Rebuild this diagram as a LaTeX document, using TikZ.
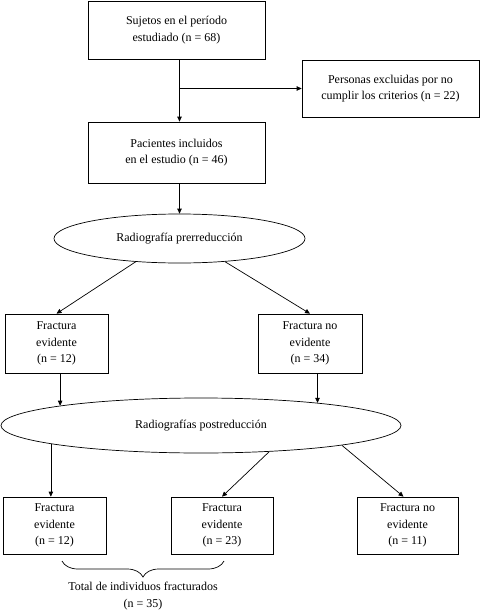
\documentclass[tikz,border=0pt]{standalone}
\usepackage{fontspec}
\setmainfont{Liberation Serif}
\usetikzlibrary{arrows.meta,shapes.geometric,decorations.pathreplacing,calc}
\begin{document}
\begin{tikzpicture}[x=1pt,y=-1pt,
  every node/.style={font=\fontsize{12}{16.5}\selectfont, align=center, inner sep=0pt},
  box/.style={draw, line width=0.7pt, rectangle},
  oval/.style={draw, line width=0.7pt, ellipse},
  conn/.style={line width=0.7pt, -{Triangle[length=5pt,width=4.5pt]}},
  plain/.style={line width=0.7pt}]
\useasboundingbox (0,0) rectangle (480,610);
\node[box, minimum width=177pt, minimum height=58pt] (b1) at (176.5,30) {Sujetos en el período\\estudiado (n = 68)};
\node[box, minimum width=177pt, minimum height=57pt] (ex) at (390.5,88.5) {Personas excluidas por no\\cumplir los criterios (n = 22)};
\node[box, minimum width=177pt, minimum height=61pt] (b2) at (176.5,152.5) {Pacientes incluidos\\en el estudio (n = 46)};
\node[oval, minimum width=251pt, minimum height=49pt] (e1) at (179.5,238.5) {Radiografía prerreducción};
\node[box, minimum width=103pt, minimum height=59pt] (b3) at (56.5,343.5) {Fractura\\evidente\\(n = 12)};
\node[box, minimum width=104pt, minimum height=59pt] (b4) at (310,343.5) {Fractura no\\evidente\\(n = 34)};
\node[oval, minimum width=400pt, minimum height=55pt] (e2) at (201,425.5) {Radiografías postreducción};
\node[box, minimum width=103pt, minimum height=57pt] (b5) at (54.5,525.5) {Fractura\\evidente\\(n = 12)};
\node[box, minimum width=102pt, minimum height=57pt] (b6) at (222,525.5) {Fractura\\evidente\\(n = 23)};
\node[box, minimum width=101pt, minimum height=57pt] (b7) at (407.5,525.5) {Fractura no\\evidente\\(n = 11)};
\node (tot) at (143,596) {Total de individuos fracturados\\(n = 35)};
\coordinate (bl) at (62,561);
\coordinate (br) at (224,561);
% connectors
\draw[conn] (e1.north |- b1.south) -- (e1.north |- b2.north);
\draw[conn] (e1.north |- ex.west) -- (ex.west);
\draw[conn] (e1.north |- b2.south) -- (e1.north);
\draw[conn] (e1.208) -- (b3.north);
\draw[conn] (e1.333) -- (b4.north);
\draw[conn] (b3.south -| e2.172.6) -- (e2.172.6);
\draw[conn] (b4.south -| e2.11.7) -- (e2.11.7);
\draw[conn] (e2.187.4) -- (e2.187.4 |- b5.north);
\draw[conn] (e2.339.5) -- (b6.north);
\draw[conn] (e2.352.7) -- ([xshift=-4pt]b7.north);
\draw[plain, decorate, decoration={brace, amplitude=16pt}] (br) -- (bl);
\end{tikzpicture}
\end{document}
